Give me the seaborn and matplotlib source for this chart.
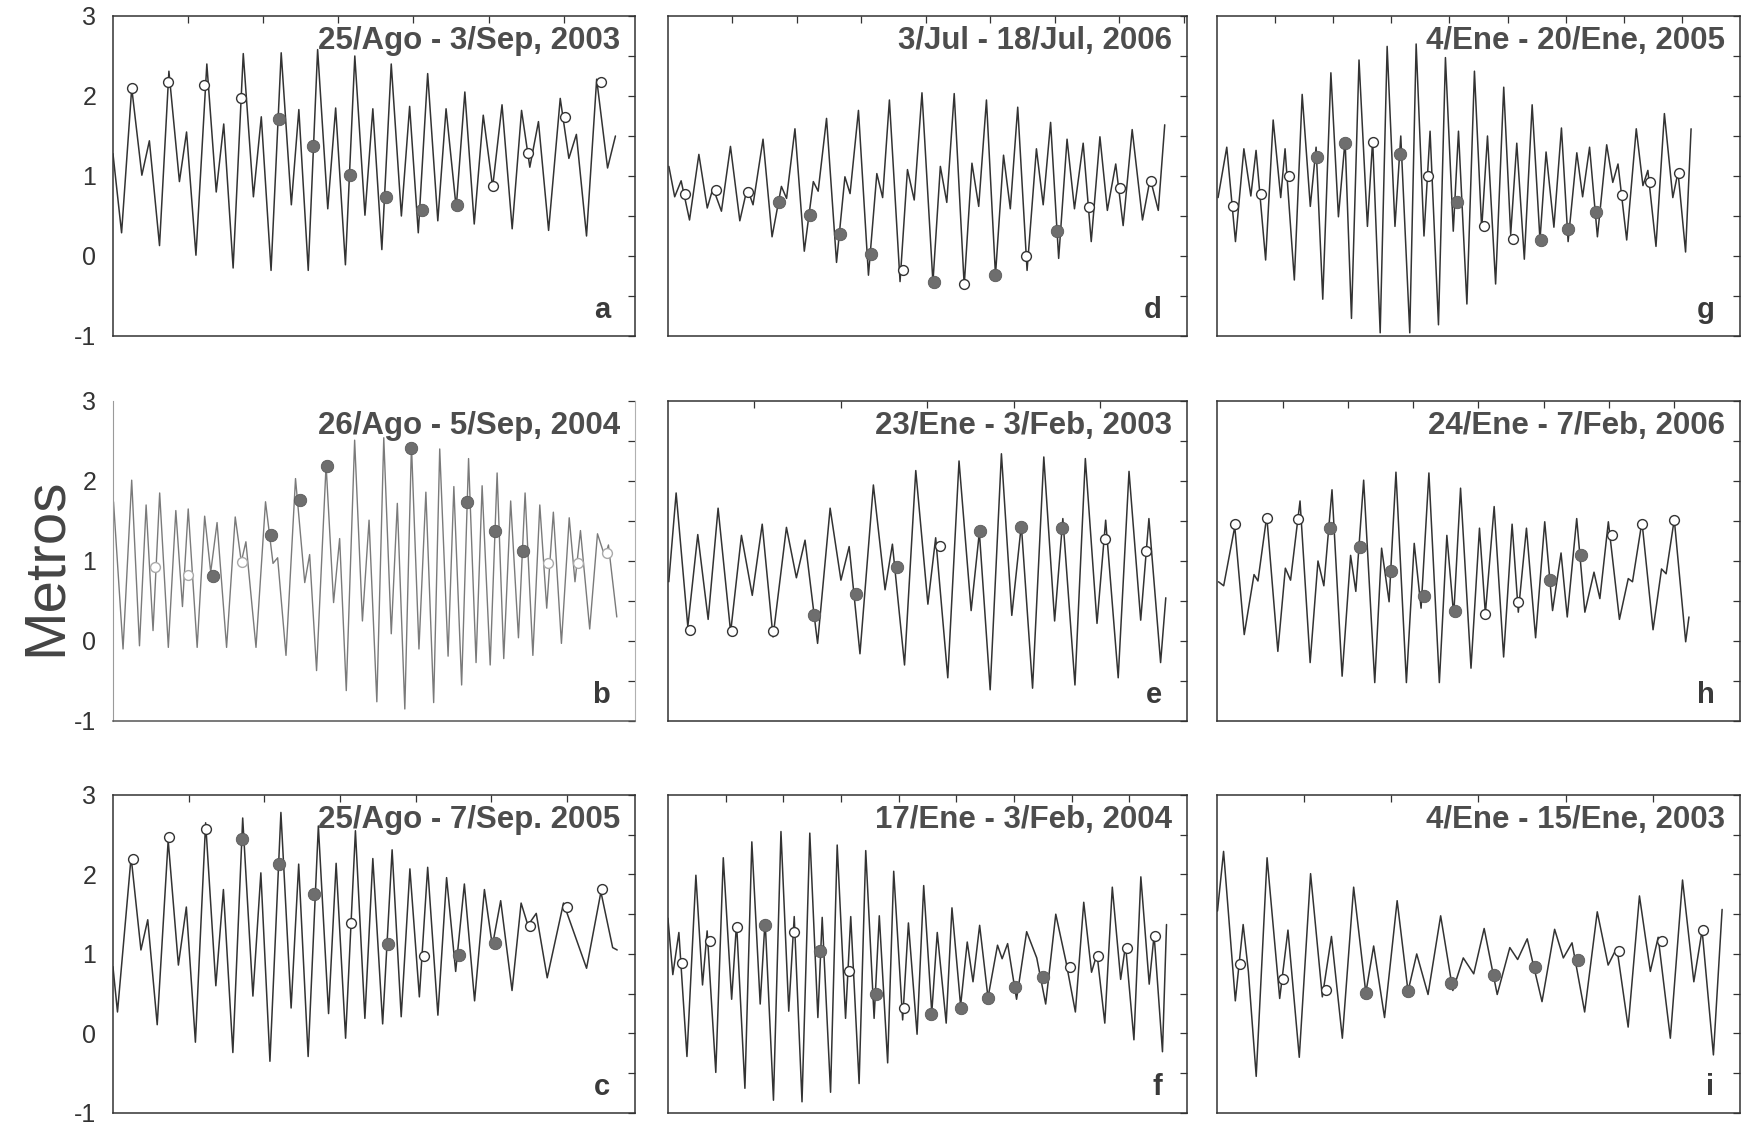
import numpy as np
import pandas as pd
import matplotlib
matplotlib.use('Agg')
import matplotlib.pyplot as plt
import seaborn as sns

# ---------------- data (time in days, sea level in metres) ----------------
titles = ["25/Ago - 3/Sep, 2003", "26/Ago - 5/Sep, 2004", "25/Ago - 7/Sep. 2005",
          "3/Jul - 18/Jul, 2006", "23/Ene - 3/Feb, 2003", "17/Ene - 3/Feb, 2004",
          "4/Ene - 20/Ene, 2005", "24/Ene - 7/Feb, 2006", "4/Ene - 15/Ene, 2003"]
letters = ["a", "b", "c", "d", "e", "f", "g", "h", "i"]
span_days = [13.9, 18.1, 13.8, 16.1, 12.0, 18.0, 18.0, 16.0, 12.0]

t_a = [0.00,0.23,0.50,0.77,0.97,1.24,1.49,1.77,1.96,2.21,2.50,2.75,2.95,3.20,3.47,3.74,3.95,4.21,4.48,4.75,
       4.95,5.20,5.45,5.72,5.93,6.19,6.44,6.71,6.92,7.16,7.41,7.68,7.90,8.13,8.38,8.65,8.87,9.14,9.37,9.62,
       9.86,10.11,10.36,10.63,10.88,11.10,11.33,11.60,11.91,12.14,12.34,12.61,12.88,13.17,13.38]
h_a = [1.28,0.29,2.10,1.01,1.44,0.13,2.31,0.93,1.55,0.01,2.40,0.80,1.65,-0.15,2.53,0.74,1.74,-0.18,2.54,0.64,
       1.83,-0.18,2.58,0.59,1.85,-0.11,2.50,0.51,1.84,0.08,2.40,0.50,1.87,0.29,2.28,0.44,1.84,0.60,2.05,0.40,
       1.76,0.86,1.89,0.34,1.82,1.11,1.68,0.32,1.97,1.22,1.52,0.25,2.21,1.10,1.50]
open_t_a = [0.50,1.47,2.43,3.42,10.11,11.06,12.03,12.99]
open_h_a = [2.10,2.18,2.14,1.98,0.87,1.29,1.74,2.18]
fill_t_a = [4.41,5.33,6.31,7.28,8.24,9.16]
fill_h_a = [1.71,1.37,1.01,0.74,0.58,0.64]

t_b = [0.02,0.35,0.65,0.92,1.15,1.39,1.62,1.92,2.18,2.41,2.61,2.92,3.18,3.39,3.61,3.94,4.24,4.45,4.61,4.96,
       5.29,5.55,5.71,6.00,6.33,6.65,6.82,7.06,7.39,7.65,7.86,8.09,8.38,8.65,8.88,9.15,9.39,9.65,9.86,10.12,
       10.35,10.61,10.85,11.12,11.33,11.62,11.82,12.09,12.33,12.59,12.80,13.08,13.32,13.55,13.79,14.06,14.29,14.56,14.80,15.04,
       15.27,15.55,15.82,16.02,16.21,16.53,16.80,17.06,17.18,17.47]
h_b = [1.74,-0.10,2.01,-0.06,1.70,0.13,1.85,-0.08,1.63,0.43,1.65,-0.08,1.56,0.86,1.48,-0.08,1.55,0.99,1.24,-0.08,
       1.74,0.97,1.04,-0.18,2.03,0.73,1.08,-0.37,2.20,0.48,1.28,-0.62,2.51,0.25,1.51,-0.76,2.54,0.09,1.72,-0.85,
       2.45,-0.10,1.86,-0.77,2.40,-0.19,1.93,-0.55,2.28,-0.27,1.94,-0.30,2.10,-0.22,1.75,0.04,1.85,-0.18,1.70,0.41,
       1.61,-0.03,1.54,0.74,1.38,0.15,1.34,1.05,1.20,0.30]
open_t_b = [1.47,2.61,4.47,15.08,16.12,17.12]
open_h_b = [0.93,0.82,0.99,0.97,0.97,1.10]
fill_t_b = [3.47,5.47,6.47,7.41,10.35,12.26,13.24,14.21]
fill_h_b = [0.81,1.33,1.76,2.19,2.41,1.74,1.38,1.12]

t_c = [0.00,0.12,0.48,0.74,0.92,1.17,1.46,1.73,1.94,2.18,2.45,2.72,2.92,3.17,3.43,3.70,3.91,4.15,4.44,4.71,
       4.91,5.16,5.43,5.70,5.90,6.15,6.41,6.66,6.87,7.13,7.38,7.62,7.85,8.10,8.32,8.59,8.82,9.06,9.29,9.56,
       9.82,10.03,10.25,10.55,10.79,10.97,11.19,11.48,11.91,12.52,12.90,13.21,13.33]
h_c = [0.84,0.27,2.22,1.05,1.43,0.11,2.43,0.86,1.59,-0.11,2.65,0.60,1.81,-0.24,2.71,0.47,2.02,-0.35,2.78,0.32,
       2.13,-0.29,2.61,0.25,2.14,-0.06,2.55,0.19,2.20,0.12,2.31,0.21,2.07,0.46,2.09,0.23,1.96,0.78,1.88,0.41,
       1.81,1.10,1.67,0.54,1.64,1.36,1.51,0.70,1.64,0.82,1.78,1.08,1.05]
open_t_c = [0.52,1.49,2.45,6.30,8.22,11.03,12.00,12.94]
open_h_c = [2.19,2.47,2.57,1.39,0.98,1.35,1.59,1.82]
fill_t_c = [3.41,4.38,5.32,7.26,9.15,10.10]
fill_h_c = [2.44,2.13,1.75,1.12,0.99,1.14]

t_d = [0.03,0.21,0.41,0.67,0.96,1.22,1.40,1.66,1.94,2.23,2.46,2.64,2.95,3.23,3.52,3.68,3.94,4.23,4.51,4.66,
       4.92,5.23,5.49,5.65,5.91,6.22,6.48,6.66,6.87,7.20,7.43,7.64,7.88,8.22,8.45,8.65,8.88,9.19,9.43,9.64,
       9.88,10.16,10.41,10.62,10.85,11.14,11.43,11.64,11.87,12.12,12.38,12.61,12.88,13.13,13.40,13.63,13.89,14.12,14.40,14.72,
       14.96,15.21,15.41]
h_d = [1.12,0.74,0.94,0.45,1.27,0.60,0.85,0.56,1.37,0.44,0.85,0.64,1.46,0.24,0.87,0.72,1.59,0.06,0.93,0.81,
       1.72,-0.08,0.99,0.78,1.82,-0.24,1.03,0.73,1.95,-0.32,1.08,0.70,2.04,-0.33,1.12,0.67,2.03,-0.37,1.16,0.62,
       1.95,-0.24,1.26,0.59,1.86,-0.18,1.34,0.64,1.67,-0.03,1.46,0.59,1.41,0.18,1.49,0.57,1.15,0.38,1.58,0.45,
       0.97,0.57,1.64]
open_t_d = [0.52,1.50,2.47,7.28,9.19,11.12,13.06,14.02,14.97]
open_h_d = [0.78,0.82,0.80,-0.18,-0.35,0.00,0.61,0.85,0.94]
fill_t_d = [3.44,4.40,5.34,6.29,8.24,10.16,12.07]
fill_h_d = [0.68,0.51,0.28,0.03,-0.33,-0.24,0.31]

t_e = [0.02,0.19,0.46,0.69,0.93,1.16,1.45,1.70,1.95,2.18,2.43,2.74,2.97,3.17,3.46,3.75,4.00,4.19,4.44,4.75,
       5.02,5.19,5.47,5.73,6.01,6.19,6.47,6.73,7.01,7.20,7.45,7.71,7.95,8.17,8.43,8.69,8.94,9.13,9.41,9.65,
       9.92,10.12,10.41,10.66,10.93,11.12,11.39,11.51]
h_e = [0.74,1.85,0.18,1.33,0.27,1.66,0.11,1.32,0.57,1.46,0.05,1.42,0.79,1.26,-0.03,1.66,0.76,1.18,-0.16,1.95,
       0.64,1.21,-0.30,2.13,0.46,1.29,-0.46,2.25,0.38,1.36,-0.61,2.34,0.32,1.45,-0.59,2.30,0.25,1.53,-0.55,2.28,
       0.22,1.51,-0.46,2.12,0.26,1.53,-0.27,0.54]
open_t_e = [0.50,1.47,2.43,6.29,10.10,11.06]
open_h_e = [0.14,0.12,0.13,1.19,1.28,1.12]
fill_t_e = [3.38,4.34,5.29,7.22,8.17,9.11]
fill_h_e = [0.32,0.59,0.92,1.37,1.43,1.41]

t_f = [0.00,0.17,0.38,0.66,0.97,1.20,1.36,1.66,1.92,2.21,2.38,2.67,2.91,3.20,3.37,3.66,3.92,4.19,4.38,4.65,
       4.92,5.20,5.35,5.64,5.87,6.16,6.34,6.63,6.86,7.15,7.33,7.62,7.83,8.14,8.34,8.64,8.87,9.15,9.34,9.65,
       9.85,10.15,10.38,10.58,10.81,11.10,11.43,11.59,11.78,12.09,12.44,12.79,13.10,13.45,13.80,14.13,14.42,14.69,14.88,15.15,
       15.41,15.70,15.87,16.16,16.40,16.69,16.86,17.15,17.29]
h_f = [1.45,0.74,1.27,-0.29,1.99,0.61,1.29,-0.49,2.21,0.43,1.39,-0.69,2.41,0.37,1.43,-0.84,2.54,0.28,1.47,-0.86,
       2.52,0.20,1.46,-0.74,2.37,0.19,1.47,-0.63,2.30,0.19,1.48,-0.37,2.04,0.17,1.39,-0.01,1.86,0.26,1.27,0.13,
       1.58,0.35,1.15,0.65,1.36,0.45,1.11,0.94,1.13,0.43,1.28,0.95,0.37,1.50,0.91,0.27,1.65,0.77,1.00,0.13,
       1.84,0.68,1.11,-0.08,1.97,0.62,1.24,-0.23,1.37]
open_t_f = [0.50,1.45,2.38,4.36,6.28,8.20,13.95,14.92,15.93,16.90]
open_h_f = [0.89,1.16,1.34,1.27,0.78,0.32,0.84,0.97,1.08,1.23]
fill_t_f = [3.37,5.29,7.21,9.13,10.15,11.10,12.03,13.02]
fill_h_f = [1.37,1.04,0.50,0.25,0.32,0.45,0.59,0.71]

t_g = [0.02,0.32,0.62,0.91,1.15,1.33,1.66,1.92,2.18,2.33,2.65,2.92,3.20,3.40,3.63,3.91,4.17,4.40,4.62,4.88,
       5.17,5.35,5.61,5.85,6.12,6.32,6.63,6.85,7.12,7.33,7.62,7.86,8.13,8.31,8.60,8.86,9.11,9.31,9.59,9.87,
       10.11,10.32,10.58,10.85,11.12,11.33,11.60,11.86,12.09,12.39,12.59,12.83,13.10,13.42,13.63,13.81,14.11,14.44,14.67,14.84,
       15.12,15.41,15.70,15.88,16.14,16.33]
h_g = [0.73,1.36,0.18,1.34,0.75,1.32,-0.05,1.70,0.73,1.34,-0.30,2.02,0.62,1.36,-0.54,2.29,0.49,1.45,-0.78,2.45,
       0.37,1.45,-0.96,2.62,0.37,1.50,-0.96,2.65,0.25,1.56,-0.86,2.48,0.31,1.56,-0.60,2.31,0.34,1.50,-0.35,2.11,
       0.27,1.41,-0.04,1.89,0.20,1.30,0.36,1.60,0.18,1.29,0.74,1.36,0.24,1.39,0.92,1.15,0.20,1.59,0.88,1.07,
       0.12,1.78,0.73,1.05,0.05,1.59]
open_t_g = [0.52,1.50,2.45,5.35,7.27,9.20,10.18,13.96,14.91,15.91]
open_h_g = [0.62,0.77,1.00,1.43,1.00,0.38,0.21,0.76,0.93,1.04]
fill_t_g = [3.42,4.38,6.30,8.25,11.15,12.09,13.04]
fill_h_g = [1.24,1.41,1.28,0.67,0.20,0.34,0.55]

t_h = [0.03,0.19,0.53,0.82,1.12,1.24,1.51,1.85,2.08,2.24,2.53,2.84,3.08,3.26,3.51,3.82,4.08,4.24,4.48,4.82,
       5.03,5.26,5.47,5.79,6.03,6.24,6.48,6.80,7.03,7.24,7.45,7.77,8.03,8.21,8.48,8.77,9.03,9.22,9.47,9.75,
       10.03,10.27,10.53,10.72,11.01,11.26,11.54,11.72,11.98,12.32,12.59,12.72,13.01,13.35,13.61,13.75,14.00,14.35,14.45]
h_h = [0.74,0.69,1.43,0.08,0.83,0.75,1.56,-0.13,0.91,0.76,1.75,-0.27,1.00,0.69,1.89,-0.44,1.07,0.62,2.01,-0.52,
       1.16,0.49,2.11,-0.52,1.22,0.41,2.10,-0.52,1.32,0.32,1.91,-0.34,1.41,0.34,1.68,-0.20,1.46,0.36,1.41,0.04,
       1.49,0.38,1.10,0.30,1.53,0.36,0.86,0.53,1.49,0.27,0.78,0.74,1.49,0.14,0.90,0.84,1.52,-0.01,0.30]
open_t_h = [0.53,1.51,2.48,8.21,9.22,12.08,13.01,14.00]
open_h_h = [1.46,1.54,1.52,0.34,0.49,1.33,1.46,1.51]
fill_t_h = [3.45,4.38,5.33,6.32,7.29,10.19,11.14]
fill_h_h = [1.41,1.17,0.87,0.56,0.37,0.76,1.07]

t_i = [0.00,0.14,0.41,0.59,0.71,0.89,1.14,1.43,1.62,1.88,2.14,2.41,2.62,2.87,3.13,3.41,3.59,3.84,4.13,4.38,
       4.58,4.84,5.13,5.41,5.65,5.89,6.13,6.43,6.72,6.90,7.12,7.46,7.75,7.95,8.15,8.44,8.73,8.98,9.18,9.44,
       9.70,9.95,10.13,10.41,10.69,10.95,11.14,11.40,11.60]
h_i = [1.54,2.29,0.41,1.37,0.78,-0.54,2.21,0.44,1.30,-0.30,2.01,0.46,1.22,-0.06,1.84,0.51,1.10,0.20,1.67,0.53,
       1.00,0.49,1.48,0.54,0.95,0.75,1.32,0.49,1.08,0.93,1.19,0.40,1.31,0.95,1.14,0.27,1.53,0.86,1.08,0.08,
       1.73,0.78,1.21,-0.06,1.93,0.65,1.30,-0.27,1.56]
open_t_i = [0.51,1.51,2.49,9.24,10.21,11.17]
open_h_i = [0.87,0.68,0.55,1.04,1.16,1.30]
fill_t_i = [3.41,4.38,5.37,6.35,7.30,8.29]
fill_h_i = [0.51,0.54,0.63,0.74,0.83,0.93]

series = {
    "a": (t_a, h_a, open_t_a, open_h_a, fill_t_a, fill_h_a),
    "b": (t_b, h_b, open_t_b, open_h_b, fill_t_b, fill_h_b),
    "c": (t_c, h_c, open_t_c, open_h_c, fill_t_c, fill_h_c),
    "d": (t_d, h_d, open_t_d, open_h_d, fill_t_d, fill_h_d),
    "e": (t_e, h_e, open_t_e, open_h_e, fill_t_e, fill_h_e),
    "f": (t_f, h_f, open_t_f, open_h_f, fill_t_f, fill_h_f),
    "g": (t_g, h_g, open_t_g, open_h_g, fill_t_g, fill_h_g),
    "h": (t_h, h_h, open_t_h, open_h_h, fill_t_h, fill_h_h),
    "i": (t_i, h_i, open_t_i, open_h_i, fill_t_i, fill_h_i),
}

# ---------------- style ----------------
sns.set_style("white")
plt.rcParams['font.family'] = ['Liberation Sans', 'DejaVu Sans']

fig = plt.figure(figsize=(17.43, 11.26), dpi=100)
col_left = [0.0648, 0.3832, 0.6985]
col_w = [0.2995, 0.2978, 0.2995]
row_bottom = [0.7016, 0.3597, 0.0116]
row_h = [0.2842, 0.2842, 0.2824]

ink = "#333333"

for k, key in enumerate(letters):
    col, row = divmod(k, 3)
    ax = fig.add_axes([col_left[col], row_bottom[row], col_w[col], row_h[row]])
    t, h, ot, oh, ft, fh = series[key]
    df = pd.DataFrame({"t": t, "h": h})
    faint = key == "b"
    sns.lineplot(data=df, x="t", y="h", ax=ax, color="#7a7a7a" if faint else ink,
                 lw=1.0 if faint else 1.1, estimator=None, sort=False)
    sns.scatterplot(x=ot, y=oh, ax=ax, marker="o", s=50, color="white",
                    edgecolor="#aaaaaa" if faint else ink, linewidth=1.0, zorder=3)
    sns.scatterplot(x=ft, y=fh, ax=ax, marker="o", s=80, color="#6e6e6e",
                    edgecolor="#5a5a5a", linewidth=0.6, zorder=3)

    xmax = span_days[k]
    ax.set_xlim(0, xmax)
    ax.set_ylim(-1, 3)
    ax.set_xlabel("")
    ax.set_ylabel("")
    ax.set_xticks(np.arange(2, xmax - 0.05, 2))
    ax.set_xticklabels([])
    yt = np.arange(-1, 3.01, 0.5)
    ax.set_yticks(yt)
    if col == 0:
        ax.set_yticklabels([f"{int(v)}" if float(v).is_integer() else "" for v in yt])
    else:
        ax.set_yticklabels([])
    ax.tick_params(axis="both", which="major", direction="in", length=5, width=0.9,
                   color=ink, top=not faint, right=True, labelsize=18, labelcolor=ink, pad=12)
    for name, sp in ax.spines.items():
        sp.set_visible(True)
        sp.set_color(ink)
        sp.set_linewidth(1.1)
    if faint:
        ax.spines["top"].set_visible(False)
        ax.spines["left"].set_color("#9a9a9a")
        ax.spines["right"].set_color("#b0b0b0")
        ax.spines["left"].set_linewidth(0.8)
        ax.spines["right"].set_linewidth(0.8)
        ax.spines["bottom"].set_color("#555555")

    ax.text(0.972, 0.968, titles[k], transform=ax.transAxes, ha="right", va="top",
            fontsize=22.5, fontweight="bold", color="#4d4d4d")
    ax.text(0.952, 0.055, key, transform=ax.transAxes, ha="right", va="baseline",
            fontsize=21, fontweight="bold", color="#3a3a3a")

fig.text(0.026, 0.497, "Metros", rotation=90, ha="center", va="center",
         fontsize=42, color="#444444")

fig.savefig("out.png", dpi=100)
